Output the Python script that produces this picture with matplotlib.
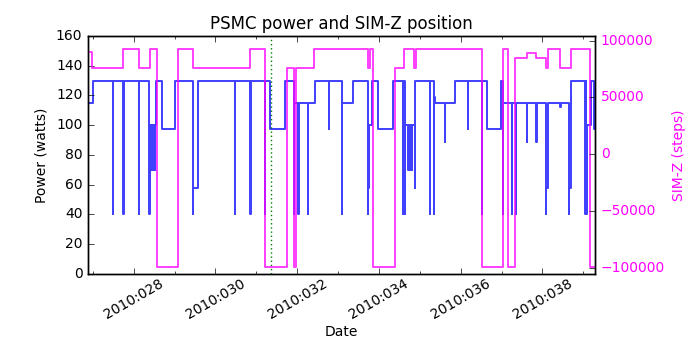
import matplotlib
matplotlib.use("Agg")
import matplotlib.pyplot as plt
from matplotlib.ticker import MultipleLocator, FuncFormatter

plt.style.use('classic')
plt.rcParams['font.family'] = ['DejaVu Sans']
plt.rcParams['font.size'] = 10

# ---- data (day-of-year 2010, fractional) ----
power_time = [26.88, 27.00,
              27.486, 27.496, 27.747, 27.757, 28.122, 28.132,
              28.383, 28.393, 28.424, 28.436, 28.448, 28.460, 28.472, 28.484,
              28.496, 28.508, 28.520, 28.532, 28.546, 28.693, 29.019,
              29.443, 29.453, 29.566,
              30.471, 30.481, 30.854, 30.864, 31.205, 31.215,
              31.343, 31.710,
              31.922, 31.932, 32.028, 32.038, 32.256, 32.266, 32.428,
              32.770, 32.780,
              33.096, 33.106, 33.373,
              33.732, 33.742, 33.757, 33.838, 33.977, 34.352,
              34.588, 34.598, 34.629, 34.639,
              34.719, 34.729, 34.760, 34.770, 34.809, 34.819, 34.874, 34.890,
              35.241, 35.251, 35.347, 35.357, 35.380,
              35.608, 35.618, 35.852,
              36.178, 36.188, 36.521, 36.531, 36.635, 36.986,
              37.026, 37.036, 37.255, 37.265, 37.352, 37.362,
              37.613, 37.623, 37.850, 37.860,
              38.086, 38.096, 38.127, 38.437, 38.447,
              38.641, 38.651, 38.706,
              39.032, 39.042, 39.052, 39.062, 39.072, 39.081, 39.187, 39.268, 39.30]
power_watts = [114.7, 129.7,
               40.5, 129.7, 40.5, 129.7, 40.5, 129.7,
               40.5, 100.3, 69.6, 100.3, 69.6, 100.3, 69.6, 100.3,
               69.6, 100.3, 69.6, 100.3, 129.7, 97.2, 129.7,
               40.5, 57.5, 129.7,
               40.5, 129.7, 40.5, 129.7, 40.5, 129.7,
               97.2, 129.7,
               40.5, 114.7, 40.5, 114.7, 40.5, 114.7, 129.7,
               97.2, 129.7,
               40.5, 114.7, 129.7,
               40.5, 57.5, 100.3, 129.7, 97.2, 129.7,
               40.5, 129.7, 40.5, 100.3,
               69.6, 100.3, 69.6, 100.3, 69.6, 100.3, 57.5, 129.7,
               40.5, 129.7, 40.5, 119.0, 114.7,
               88.9, 114.7, 129.7,
               97.2, 129.7, 40.5, 129.7, 97.2, 129.7,
               40.5, 114.7, 40.5, 114.7, 40.5, 114.7,
               88.9, 114.7, 88.9, 114.7,
               40.5, 57.5, 114.7, 112.5, 114.7,
               40.5, 57.5, 129.7,
               40.5, 129.7, 40.5, 129.7, 40.5, 100.3, 129.7, 97.2, 97.2]

simz_time = [26.88, 26.981, 27.747, 28.138, 28.399, 28.563, 29.092, 29.443,
             30.854, 31.205, 31.751, 31.914, 31.971, 32.403,
             33.732, 33.773, 33.854, 34.401, 34.613, 34.857, 34.914,
             36.521, 37.026, 37.149, 37.336, 37.613, 37.850, 38.086, 38.135,
             38.437, 38.706, 39.163, 39.30]
simz_steps = [90400, 75624, 92905, 75624, 92905, -99612, 92905, 75624,
              92905, -99612, 75624, -99612, 75624, 92905,
              75624, 92905, -99612, 75624, 92905, 75624, 92905,
              -99612, 92905, -99612, 85060, 88880, 85060, 75624, 92905,
              75624, 92905, -99612, -99612]

marker_day = 31.35

fig = plt.figure(figsize=(7, 3.5), dpi=100)
fig.patch.set_facecolor('white')
ax1 = fig.add_axes([0.1257, 0.2177, 0.7247, 0.6797])
ax1.plot(power_time, power_watts, color='b', alpha=0.75, lw=1.4,
         drawstyle='steps-post')
ax1.axvline(marker_day, color='#008000', linestyle=(0, (1, 2)), lw=1.0)
ax1.set_ylim(0, 160)
ax1.set_xlim(26.883, 39.292)
ax1.set_ylabel('Power (watts)')
ax1.set_xlabel('Date', labelpad=2)
ax1.set_title('PSMC power and SIM-Z position', fontsize=12)
ax1.xaxis.set_major_locator(MultipleLocator(2))
ax1.xaxis.set_minor_locator(MultipleLocator(1))
ax1.xaxis.set_major_formatter(FuncFormatter(lambda x, p: "2010:%03d" % int(round(x))))
ax1.tick_params(axis='x', labelrotation=30, pad=2)

ax2 = ax1.twinx()
ax2.plot(simz_time, simz_steps, color='#ff00ff', alpha=0.75, lw=1.4,
         drawstyle='steps-post')
ax2.set_ylim(-105200, 104200)
ax2.set_xlim(26.883, 39.292)
ax2.set_ylabel('SIM-Z (steps)', color='#ff00ff')
ax2.yaxis.set_major_locator(MultipleLocator(50000))
ax2.tick_params(axis='y', labelcolor='#ff00ff')

fig.savefig('out.png', dpi=100, facecolor='white')
